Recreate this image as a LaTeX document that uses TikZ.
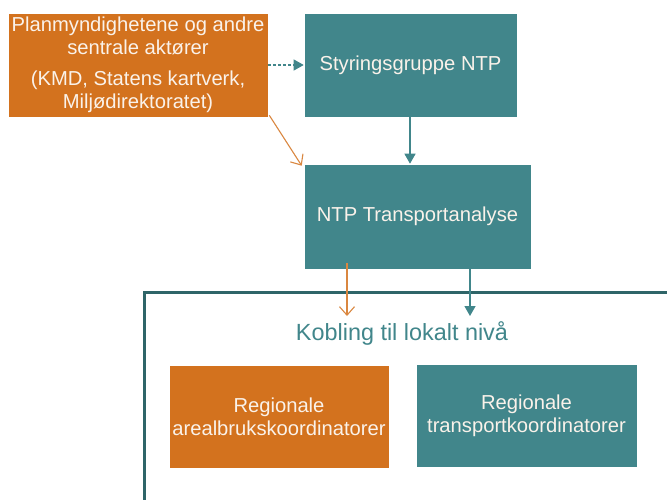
\documentclass[tikz,border=0pt]{standalone}
\usepackage{fontspec}
\setmainfont{Liberation Sans}
\usetikzlibrary{arrows.meta}
\definecolor{orng}{HTML}{D3721E}
\definecolor{teal1}{HTML}{41868B}
\definecolor{frame1}{HTML}{2F6568}
\definecolor{txt}{HTML}{FAF2EA}
\tikzset{
  box/.style={draw=white, line width=0.6pt, text=txt, align=center, inner sep=0pt, font=\fontsize{20.2}{23}\selectfont},
  obox/.style={box, fill=orng},
  tbox/.style={box, fill=teal1},
  tarrow/.style={draw=teal1, line width=1.3pt, -{Triangle[length=10pt,width=11pt]}},
  oarrow/.style={draw=orng!85, line width=1.1pt, -{Straight Barb[length=8.5pt,width=15pt,line width=1.1pt]}},
}
\begin{document}
\begin{tikzpicture}[x=1pt,y=-1pt]
\useasboundingbox (0,0) rectangle (667,499);
\fill[white] (0,0) rectangle (667,499);
\node[obox, minimum width=260, minimum height=104] (pm) at (138,65)
  {Planmyndighetene og andre\\sentrale aktører\\[8pt](KMD, Statens kartverk,\\Miljødirektoratet)};
\node[tbox, minimum width=213, minimum height=104] (sg) at (410.5,65) {Styringsgruppe NTP};
\node[tbox, minimum width=227, minimum height=105] (ta) at (417.5,216.5) {NTP Transportanalyse};
\node[obox, minimum width=220, minimum height=103] (ra) at (279,416.5) {Regionale\\arealbrukskoordinatorer};
\node[tbox, minimum width=221, minimum height=103] (rt) at (526.5,415.5) {Regionale\\transportkoordinatorer};
\node[text=teal1, font=\fontsize{23.4}{26}\selectfont, inner sep=0pt] (kb) at (402,333) {Kobling til lokalt nivå};
% frame
\begin{scope}
\clip (0,0) rectangle (667,499);
\draw[frame1, line width=3pt] (144,505) -- (144,292.5) -- (675,292.5);
\end{scope}
% arrows
\draw[tarrow, dashed, dash pattern=on 3pt off 2pt, line width=1.1pt] (pm.east) -- (sg.west);
\draw[oarrow] ([xshift=1pt,yshift=2pt]pm.south east) -- ([xshift=-2pt,yshift=-2pt]ta.north west);
\draw[tarrow] ([xshift=-0.5pt,yshift=2pt]sg.south) -- ([xshift=-0.5pt]sg.south |- ta.north);
\coordinate (oe) at (347,316);
\coordinate (te) at (470,316);
\draw[oarrow] ([yshift=6pt]ta.south -| oe) -- (oe);
\draw[tarrow] ([yshift=4pt]ta.south -| te) -- (te);
\end{tikzpicture}
\end{document}
